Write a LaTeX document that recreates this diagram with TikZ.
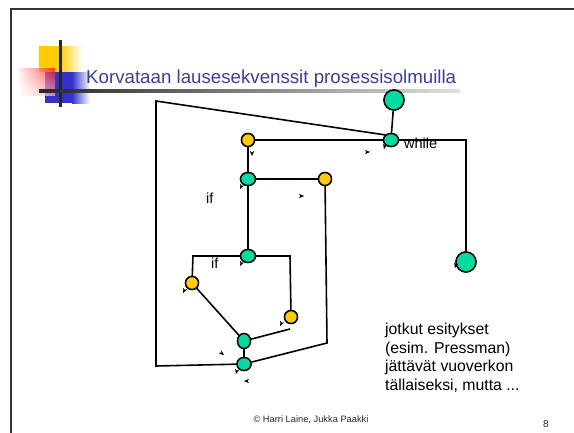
\documentclass[tikz,border=0pt]{standalone}
\usepackage{fontspec}
\setmainfont{Liberation Sans}
\usetikzlibrary{arrows.meta,shapes.geometric,shadings}
\definecolor{nodegreen}{RGB}{0,220,160}
\definecolor{nodeyellow}{RGB}{255,204,0}
\definecolor{titleblue}{RGB}{60,60,165}
\definecolor{decoblue}{RGB}{51,51,204}
\tikzset{
  gnode/.style={ellipse, draw=black, line width=1.4pt, fill=nodegreen, inner sep=0pt, minimum width=15pt, minimum height=13pt},
  ynode/.style={circle, draw=black, line width=1.4pt, fill=nodeyellow, inner sep=0pt, minimum size=13pt},
  bignode/.style={circle, draw=black, line width=1.4pt, fill=nodegreen, inner sep=0pt, minimum size=20pt},
  edge/.style={line width=1.6pt},
  tipmark/.style={-{Stealth[length=5pt,width=4pt]}, line width=0.2pt},
  lbl/.style={font=\fontsize{14.5}{17}\selectfont, inner sep=0pt}
}
\begin{document}
\begin{tikzpicture}[x=1pt,y=-1pt]
\useasboundingbox (0,0) rectangle (574,432);
% slide frame
\draw[line width=2pt, black!80] (11,440) -- (11,8.5) -- (580,8.5);
% title decoration
\fill[nodeyellow] (39,46) rectangle (60,72);
\shade[left color=nodeyellow, right color=white] (60,46) rectangle (82,72);
\fill[decoblue] (45,72) rectangle (72,103);
\shade[left color=decoblue, right color=white] (72,72) rectangle (90,103);
\shade[upper right=red, upper left=red!10, lower left=white, lower right=red!30, opacity=0.7] (19,68) rectangle (55,95);
\fill[black!85] (59,40) rectangle (62,107);
\shade[left color=black!85, right color=black!12] (39,89.5) rectangle (460,92.5);
\node[anchor=base west, inner sep=0pt, text=titleblue, font=\fontsize{18.7}{22}\selectfont] (title) at (86,83) {Korvataan lausesekvenssit prosessisolmuilla};
% nodes
\node[bignode] (start) at (394,100) {};
\node[gnode] (while) at (391,140) {};
\node[ynode] (y1) at (248,140) {};
\node[gnode] (g1) at (248,179) {};
\node[ynode] (y2) at (325,179) {};
\node[gnode] (g2) at (248,256) {};
\node[ynode] (y3) at (192,283) {};
\node[ynode] (y4) at (291,317) {};
\node[gnode, minimum width=13pt, minimum height=15pt] (g3) at (244,341) {};
\node[gnode, minimum width=14pt, minimum height=13pt] (g4) at (244,364) {};
\node[bignode] (end) at (466,262) {};
\coordinate (frtl) at (156,101);
\coordinate (frbl) at (156,366);
\coordinate (wr) at (466,140);
\coordinate (y2b) at (327,343);
\coordinate (g2l) at (193,256);
\coordinate (g2r) at (290,256);
\coordinate (y4b) at (290,329);
% edges
\draw[edge] (start) -- (while);
\draw[edge] (y1) -- (while);
\draw[edge] (while) -- (wr) -- (end);
\draw[edge] (g4) -- (frbl) -- (frtl) -- (while.north west);
\draw[edge] (y1) -- (g1);
\draw[edge] (g1) -- (y2);
\draw[edge] (y2) -- (y2b) -- (g4);
\draw[edge] (g1) -- (g2);
\draw[edge] (g2) -- (g2l) -- (y3);
\draw[edge] (g2) -- (g2r) -- (y4);
\draw[edge] (y3) -- (g3);
\draw[edge] (g3) -- (y4b);
\draw[edge, line width=2.2pt] (g3) -- (g4);
% redraw nodes on top
\node[bignode] at (start) {};
\node[gnode] at (while) {};
\node[ynode] at (y1) {};
\node[gnode] at (g1) {};
\node[ynode] at (y2) {};
\node[gnode] at (g2) {};
\node[ynode] at (y3) {};
\node[ynode] at (y4) {};
\node[gnode, minimum width=13pt, minimum height=15pt] at (g3) {};
\node[gnode, minimum width=14pt, minimum height=13pt] at (g4) {};
\node[bignode] at (end) {};
% small arrow marks
\draw[tipmark] (366,152) -- (370,152);
\draw[tipmark] (385,145) -- (384,149);
\draw[tipmark] (252,154) -- (252,156);
\draw[tipmark] (242,185) -- (240,189);
\draw[tipmark] (300,196) -- (304,196);
\draw[tipmark] (242,262) -- (240,266);
\draw[tipmark] (185,289) -- (183,293);
\draw[tipmark] (282,322) -- (280,326);
\draw[tipmark] (220,352) -- (224,355);
\draw[tipmark] (237,370) -- (236,374);
\draw[tipmark] (248,381) -- (244,381);
\draw[tipmark] (456,264) -- (455,268);
% labels
\node[lbl, anchor=base west] (lwhile) at (404,148) {while};
\node[lbl, anchor=base west] (lif1) at (206,203) {if};
\node[lbl, anchor=base west] (lif2) at (211,268) {if};
\node[anchor=north west, inner sep=0pt, align=left, font=\fontsize{15.8}{18.5}\selectfont] (note) at (385,323) {jotkut esitykset\\(esim. Pressman)\\jättävät vuoverkon\\tällaiseksi, mutta ...};
\node[inner sep=0pt, font=\fontsize{9.3}{11}\selectfont, text=black!85] (foot) at (311,420) {© Harri Laine, Jukka Paakki};
\node[inner sep=0pt, font=\fontsize{10}{12}\selectfont, text=black!85] (page) at (546,424) {8};
\end{tikzpicture}
\end{document}
